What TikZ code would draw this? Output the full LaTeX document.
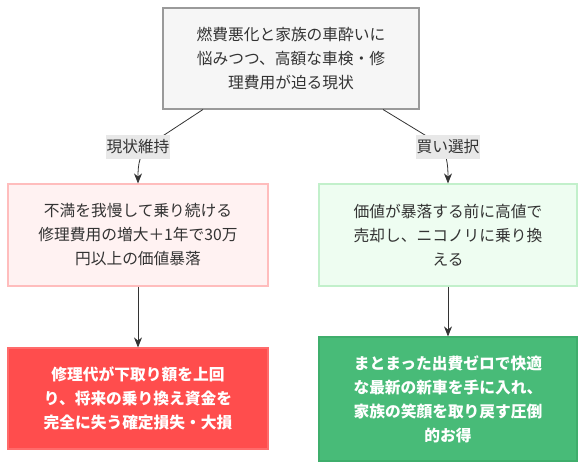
\documentclass[tikz,border=0pt]{standalone}
\usepackage{fontspec}
\setmainfont{Noto Sans CJK JP}
\usetikzlibrary{arrows.meta}
\definecolor{topfill}{HTML}{F6F6F6}
\definecolor{topdraw}{HTML}{9A9A9A}
\definecolor{pinkfill}{HTML}{FFF2F2}
\definecolor{pinkdraw}{HTML}{FFBDBD}
\definecolor{mintfill}{HTML}{EEFDF1}
\definecolor{mintdraw}{HTML}{C2F0CB}
\definecolor{redfill}{HTML}{FF4D4D}
\definecolor{reddraw}{HTML}{FF6B6B}
\definecolor{greenfill}{HTML}{48BB78}
\definecolor{greendraw}{HTML}{3FAE6C}
\definecolor{labelfill}{HTML}{E8E8E8}
\definecolor{txt}{HTML}{333333}
\definecolor{edge}{HTML}{333333}
\tikzset{
  x=0.75pt, y=-0.75pt,
  box/.style={draw, line width=0.9pt, align=center, inner sep=0pt,
    font=\fontsize{11.8}{18}\selectfont, text=txt},
  hot/.style={box, text=white, font=\fontsize{11.8}{18}\selectfont\bfseries},
  lbl/.style={fill=labelfill, inner xsep=0.6pt, inner ysep=0pt, minimum height=18pt,
    font=\fontsize{11.8}{13}\selectfont, text=txt},
  conn/.style={draw=edge, line width=0.6pt},
  arr/.style={conn, -{Stealth[length=7.5pt, width=6pt]}}
}
\begin{document}
\begin{tikzpicture}
\useasboundingbox (0,0) rectangle (586,470);
\node[box, fill=topfill, draw=topdraw, minimum width=256*0.75pt, minimum height=101*0.75pt] (top) at (291,58.5)
  {燃費悪化と家族の車酔いに\\悩みつつ、高額な車検・修\\理費用が迫る現状};
\node[box, fill=pinkfill, draw=pinkdraw, minimum width=260*0.75pt, minimum height=102*0.75pt] (lmid) at (138,235)
  {不満を我慢して乗り続ける\\修理費用の増大＋1年で30万\\円以上の価値暴落};
\node[box, fill=mintfill, draw=mintdraw, minimum width=258*0.75pt, minimum height=102*0.75pt] (rmid) at (448,235)
  {価値が暴落する前に高値で\\売却し、ニコノリに乗り換\\える};
\node[hot, fill=redfill, draw=reddraw, minimum width=260*0.75pt, minimum height=101*0.75pt] (lbot) at (138,398.5)
  {修理代が下取り額を上回\\り、将来の乗り換え資金を\\完全に失う確定損失・大損};
\node[hot, fill=greenfill, draw=greendraw, minimum width=258*0.75pt, minimum height=124*0.75pt] (rbot) at (448,399)
  {まとまった出費ゼロで快適\\な最新の新車を手に入れ、\\家族の笑顔を取り戻す圧倒\\的お得};
% left branch
\coordinate (ls) at (203,109.5);
\coordinate (lm) at (152,143);
\draw[arr] (ls) -- (lm) .. controls (139,152) and (138,165) .. (lmid.north -| 138,0);
\node[lbl] (l1) at (138,147) {現状維持};
% right branch
\coordinate (rs) at (383,109.5);
\coordinate (rm) at (438,143);
\draw[arr] (rs) -- (rm) .. controls (447,152) and (448,165) .. (rmid.north -| 448,0);
\node[lbl] (l2) at (448,147) {買い選択};
% lower arrows
\draw[arr] (lmid.south) -- (lbot.north);
\draw[arr] (rmid.south) -- (rbot.north);
\end{tikzpicture}
\end{document}
